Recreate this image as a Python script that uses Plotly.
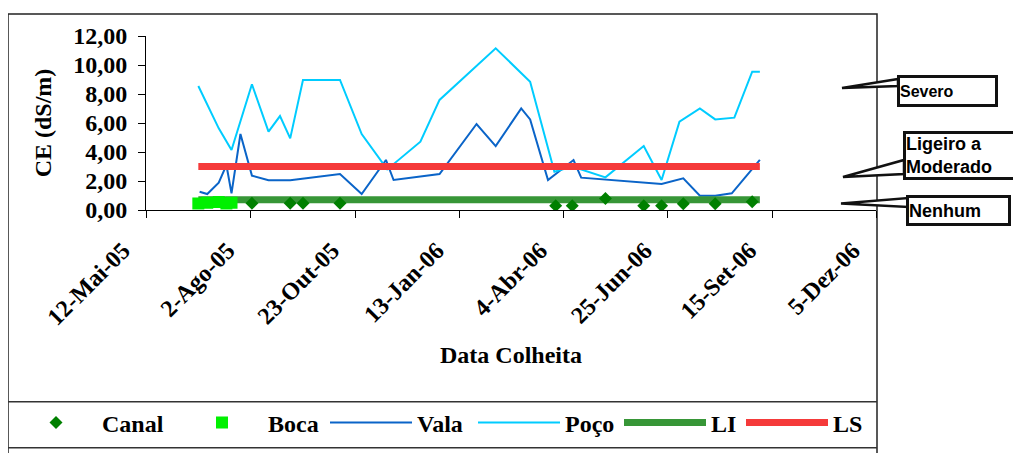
import plotly.graph_objects as go

# ---------------- data ----------------
tick_dates = ["2005-05-12", "2005-08-02", "2005-10-23", "2006-01-13",
              "2006-04-04", "2006-06-25", "2006-09-15", "2006-12-05"]
tick_labels = ["12-Mai-05", "2-Ago-05", "23-Out-05", "13-Jan-06",
               "4-Abr-06", "25-Jun-06", "15-Set-06", "5-Dez-06"]
y_ticks = [0, 2, 4, 6, 8, 10, 12]

canal_dates = ["2005-08-03", "2005-09-02", "2005-09-12", "2005-10-11",
               "2006-03-29", "2006-04-11", "2006-05-07", "2006-06-06",
               "2006-06-20", "2006-07-07", "2006-08-01", "2006-08-30"]
canal_ce = [0.46, 0.46, 0.46, 0.46, 0.30, 0.30, 0.80, 0.30, 0.30, 0.43, 0.43, 0.57]

boca_dates = ["2005-06-22", "2005-06-29", "2005-07-08", "2005-07-14", "2005-07-18"]
boca_ce = [0.45, 0.50, 0.55, 0.45, 0.50]

vala_dates = ["2005-06-23", "2005-06-29", "2005-07-08", "2005-07-14", "2005-07-18",
              "2005-07-25", "2005-08-03", "2005-08-16", "2005-09-02", "2005-10-11",
              "2005-10-28", "2005-11-16", "2005-11-22", "2005-12-28", "2006-01-26",
              "2006-02-10", "2006-03-02", "2006-03-09", "2006-03-23", "2006-04-12",
              "2006-04-18", "2006-06-20", "2006-07-07", "2006-07-20", "2006-08-01",
              "2006-08-14", "2006-09-05"]
vala_ce = [1.26, 1.10, 1.88, 3.10, 1.15, 5.24, 2.37, 2.05, 2.05, 2.48,
           1.10, 3.45, 2.07, 2.48, 5.93, 4.41, 7.01, 6.25, 2.07, 3.45,
           2.23, 1.79, 2.18, 0.99, 0.99, 1.15, 3.45]

poco_dates = ["2005-06-22", "2005-07-08", "2005-07-18", "2005-08-03", "2005-08-16",
              "2005-08-25", "2005-09-02", "2005-09-12", "2005-10-11", "2005-10-28",
              "2005-11-17", "2005-12-13", "2005-12-28", "2006-02-10", "2006-03-09",
              "2006-03-28", "2006-04-11", "2006-05-07", "2006-06-06", "2006-06-20",
              "2006-07-04", "2006-07-20", "2006-08-01", "2006-08-16", "2006-08-30",
              "2006-09-05"]
poco_ce = [8.55, 5.63, 4.14, 8.67, 5.40, 6.48, 4.94, 8.97, 8.97, 5.24,
           2.80, 4.71, 7.59, 11.15, 8.85, 2.64, 3.00, 2.25, 4.41, 2.07,
           6.09, 7.01, 6.25, 6.37, 9.54, 9.54]

lim_dates = ["2005-06-22", "2006-09-05"]
li_ce = [0.7, 0.7]
ls_ce = [3.0, 3.0]

# ---------------- layout helpers (screen pixel -> paper) ----------------
# the page body has an 8px margin, so the figure is 8px smaller than the window
OFF = 8
W, H = 1021 - OFF, 453 - OFF
L, T = 146 - OFF, 36 - OFF
PW, PH = 730, 174
R = W - L - PW
B = H - T - PH


def px(x):
    return (x - OFF - L) / PW


def py(y):
    return (H - B - (y - OFF)) / PH


SERIF = "Liberation Serif"
SANS = "Liberation Sans"
BOLD_SERIF = dict(family=SERIF, size=24, color="black", weight="bold")

fig = go.Figure()

fig.add_trace(go.Scatter(x=vala_dates, y=vala_ce, mode="lines", name="Vala",
                         line=dict(color="#0A64C8", width=2), legendrank=3,
                         legendwidth=51))
fig.add_trace(go.Scatter(x=poco_dates, y=poco_ce, mode="lines", name="Poço",
                         line=dict(color="#00CCFF", width=2), legendrank=4,
                         legendwidth=49))
fig.add_trace(go.Scatter(x=lim_dates, y=li_ce, mode="lines", name="LI",
                         line=dict(color="#379637", width=7), legendrank=5,
                         legendwidth=25))
fig.add_trace(go.Scatter(x=lim_dates, y=ls_ce, mode="lines", name="LS",
                         line=dict(color="#F53A3A", width=7), legendrank=6,
                         legendwidth=30))
fig.add_trace(go.Scatter(x=canal_dates, y=canal_ce, mode="markers", name="Canal",
                         marker=dict(symbol="diamond", size=10, color="#008000"),
                         legendrank=1, legendwidth=69))
fig.add_trace(go.Scatter(x=boca_dates, y=boca_ce, mode="markers", name="Boca",
                         marker=dict(symbol="square", size=12, color="#00F000"),
                         legendrank=2, legendwidth=52))

fig.update_layout(
    width=W, height=H, template="none",
    margin=dict(l=L, r=R, t=T, b=B, pad=0, autoexpand=False),
    paper_bgcolor="white", plot_bgcolor="white",
    separators=", ",
    font=BOLD_SERIF,
    showlegend=True,
    legend=dict(orientation="h", x=px(10), xanchor="left", y=py(423), yanchor="middle",
                itemwidth=82, bgcolor="rgba(0,0,0,0)", borderwidth=0,
                font=BOLD_SERIF),
    xaxis=dict(type="date", range=[tick_dates[0], tick_dates[-1]],
               tickmode="array", tickvals=tick_dates, ticktext=tick_labels,
               tickangle=-45, ticks="outside", ticklen=7, tickcolor="black",
               tickwidth=1, showline=True, linecolor="black", linewidth=1,
               showgrid=False, zeroline=False, automargin=False,
               ticklabelstandoff=9, ticklabelshift=-23,
               tickfont=BOLD_SERIF,
               title=dict(text="Data Colheita", standoff=16, font=BOLD_SERIF)),
    yaxis=dict(range=[0, 12], tickmode="array", tickvals=y_ticks, tickformat=".2f",
               ticks="outside", ticklen=7, tickcolor="black", tickwidth=1,
               showline=True, linecolor="black", linewidth=1,
               showgrid=False, zeroline=False, automargin=False,
               ticklabelstandoff=6,
               tickfont=BOLD_SERIF,
               title=dict(text="CE (dS/m)", standoff=14, font=BOLD_SERIF)),
)

# chart frame and legend box lines
shapes = [
    dict(type="rect", xref="paper", yref="paper", x0=px(8), x1=px(877), y0=py(470), y1=py(14),
         line=dict(color="#222222", width=1.5), fillcolor="rgba(0,0,0,0)", layer="below"),
    dict(type="line", xref="paper", yref="paper", x0=px(8), x1=px(877), y0=py(401.7), y1=py(401.7),
         line=dict(color="#333333", width=1.5)),
    dict(type="line", xref="paper", yref="paper", x0=px(8), x1=px(877), y0=py(447.7), y1=py(447.7),
         line=dict(color="#333333", width=1.5)),
]


def wedge(tip, top, bot):
    pts = [tip, top, bot]
    d = "M " + " L ".join(f"{px(a):.5f},{py(b):.5f}" for a, b in pts) + " Z"
    return dict(type="path", xref="paper", yref="paper", path=d,
                fillcolor="white", line=dict(color="#111111", width=2.5), layer="above")


shapes += [
    wedge((842, 88), (898, 79), (898, 86)),
    wedge((843, 177), (904, 160), (904, 174)),
    wedge((841, 203.5), (908, 198), (908, 207)),
]
fig.update_layout(shapes=shapes)

# (text, left px, top px, box width, box height, font size)
callouts = [
    ("Severo", 897, 75, 101, 32, 16),
    ("Ligeiro a<br>Moderado", 903, 131, 116, 49, 18),
    ("Nenhum", 906, 195, 105, 31, 18),
]
for text, x0, y0, w, h, fs in callouts:
    fig.add_annotation(
        x=px(x0 + w), y=py(y0), xref="paper", yref="paper", xanchor="right", yanchor="top",
        text=text, showarrow=False, align="left", valign="middle",
        width=w - 6, height=h - 6, borderpad=0, borderwidth=3,
        bordercolor="#111111", bgcolor="white",
        font=dict(family=SANS, size=fs, color="black", weight="bold"))

fig.write_html("out.html")
